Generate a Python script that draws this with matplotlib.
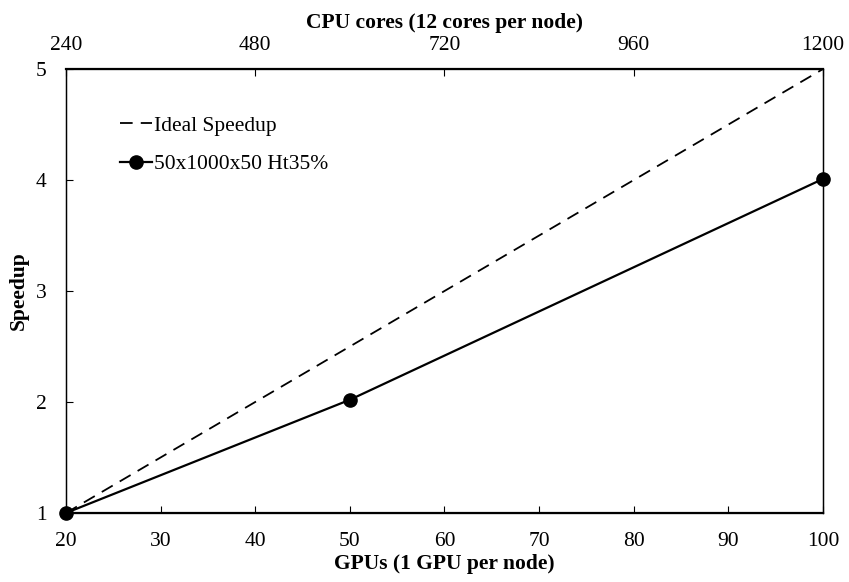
import matplotlib
matplotlib.use("Agg")
import matplotlib.pyplot as plt
import numpy as np

plt.rcParams['font.family'] = ['Liberation Serif', 'DejaVu Serif']

# data
gpus = [20, 50, 100]
speedup = [1.0, 2.02, 4.01]
ideal_x = [20, 100]
ideal_y = [1, 5]
cpu_ticks = [240, 480, 720, 960, 1200]
gpu_ticks = [20, 30, 40, 50, 60, 70, 80, 90, 100]
y_ticks = [1, 2, 3, 4, 5]

fs = 15.5

fig = plt.figure(figsize=(8.49, 5.82), dpi=100)
ax = fig.add_axes([0.0777, 0.1186, 0.8917, 0.7628])

ax.plot(ideal_x, ideal_y, color='black', linestyle=(0, (7, 4.5)), linewidth=1.3,
        label='Ideal Speedup')
ax.plot(gpus, speedup, color='black', linewidth=1.6, marker='o', markersize=9.5,
        label='50x1000x50 Ht35%', clip_on=False, zorder=5)

ax.set_xlim(20, 100)
ax.set_ylim(1, 5)
ax.set_xticks(gpu_ticks)
ax.set_yticks(y_ticks)
ax.tick_params(direction='in', length=5, labelsize=fs, pad=14)
ax.set_xlabel('GPUs (1 GPU per node)', fontsize=fs, fontweight='bold', labelpad=2)
ax.set_ylabel('Speedup', fontsize=fs, fontweight='bold', labelpad=5)
for s in ['bottom', 'top']:
    ax.spines[s].set_linewidth(1.6)
for s in ['left', 'right']:
    ax.spines[s].set_linewidth(1.0)

ax2 = ax.twiny()
ax2.set_xlim(240, 1200)
ax2.set_xticks(cpu_ticks)
ax2.tick_params(direction='in', length=5, labelsize=fs, pad=10)
ax2.set_xlabel('CPU cores (12 cores per node)', fontsize=fs, fontweight='bold', labelpad=6)

ax.legend(loc='upper left', bbox_to_anchor=(0.071, 0.895), frameon=False, fontsize=fs,
          handlelength=1.5, handletextpad=0.1, labelspacing=0.85, borderpad=0,
          borderaxespad=0)

fig.savefig('out.png', dpi=100)
